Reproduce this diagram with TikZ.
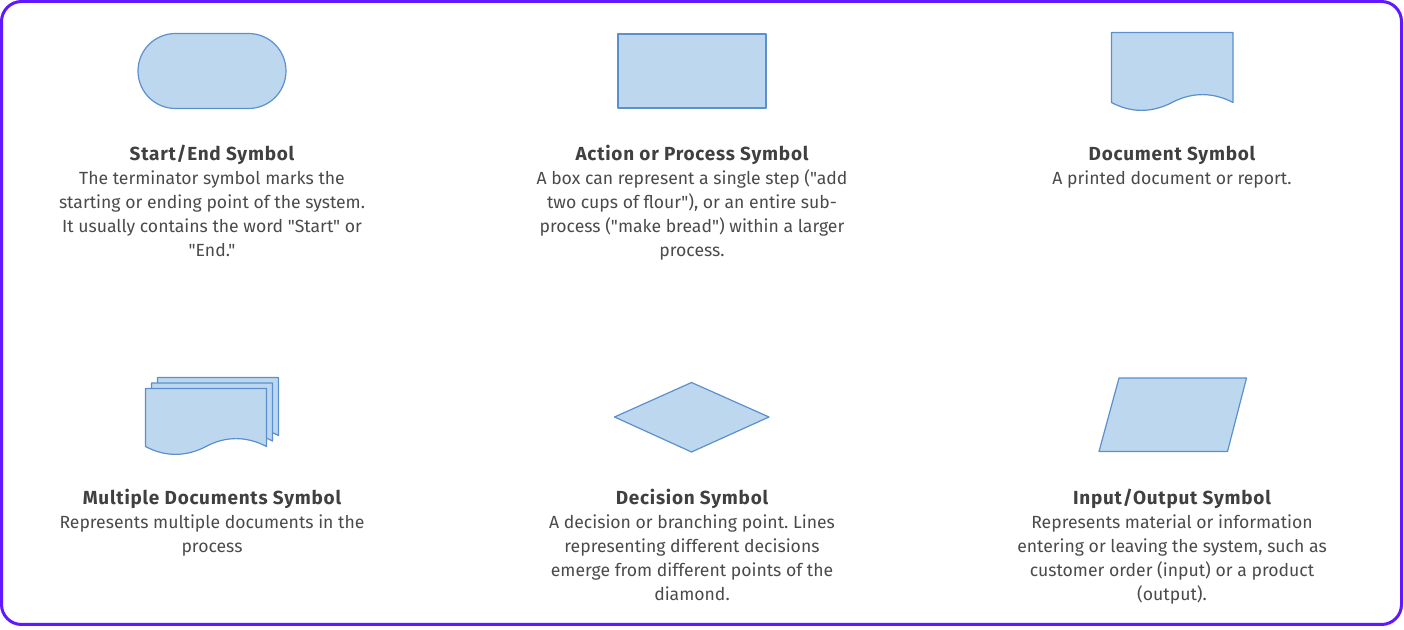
\documentclass[tikz,border=0pt]{standalone}
\usepackage{fontspec}
\setmainfont{Fira Sans}[Ligatures=TeXOff]
\frenchspacing
\definecolor{shapefill}{RGB}{189,215,238}
\definecolor{shapeline}{RGB}{91,144,207}
\definecolor{framec}{RGB}{98,24,255}
\definecolor{titlec}{RGB}{64,64,64}
\definecolor{bodyc}{RGB}{74,74,74}
\begin{document}
\begin{tikzpicture}[x=0.75pt,y=-0.75pt,
  sym/.style={fill=shapefill,draw=shapeline,line width=0.9pt,line join=round},
  ttl/.style={anchor=base,inner sep=0pt,text=titlec,font=\fontsize{14.2}{18}\selectfont\bfseries\addfontfeature{LetterSpace=4}},
  bdy/.style={anchor=base,inner sep=0pt,text=bodyc,align=center,font=\fontsize{13.2}{18}\selectfont\frenchspacing}]
\useasboundingbox (0,0) rectangle (1404,630);
\draw[framec,line width=2.25pt,rounded corners=15pt] (1.5,1.5) rectangle (1401.5,624.5);
% Start/End
\draw[sym,rounded corners=28.1pt] (138,33.5) rectangle (286,108.5);
% Process
\draw[sym] (618,34) rectangle (766,108);
% Document
\draw[sym] (1111.5,102.5) -- (1111.5,32.5) -- (1233,32.5) -- (1233,102.5)
  .. controls (1213,92) and (1192,92) .. (1172,102.5)
  .. controls (1152,113) and (1131,113) .. (1111.5,102.5) -- cycle;
% Multiple documents
\foreach \dx/\dy in {12/-11,6/-5.5,0/0}{
  \draw[sym,shift={(\dx,\dy)}] (145.5,446.5) -- (145.5,388.5) -- (266.5,388.5) -- (266.5,446.5)
    .. controls (246.5,436) and (225.5,436) .. (206,446.5)
    .. controls (186,457) and (165,457) .. (145.5,446.5) -- cycle;
}
% Decision
\draw[sym] (614.5,417) -- (691.5,382.5) -- (769,417) -- (691.5,452) -- cycle;
% Input/Output
\draw[sym] (1119,378) -- (1246.5,378) -- (1227.5,451.5) -- (1099,451.5) -- cycle;
% texts (anchor=base is the baseline of the last line)
\node[ttl] (t1) at (212,161) {Start/End Symbol};
\node[bdy] (b1) at (212,256.5) {The terminator symbol marks the\\starting or ending point of the system.\\It usually contains the word "Start" or\\"End."};
\node[ttl] (t2) at (692,161) {Action or Process Symbol};
\node[bdy] (b2) at (692,256.5) {A box can represent a single step ("add\\two cups of flour"), or an entire sub-\\process ("make bread") within a larger\\process.};
\node[ttl] (t3) at (1172,161) {Document Symbol};
\node[bdy] (b3) at (1172,184.5) {A printed document or report.};
\node[ttl] (t4) at (212,505) {Multiple Documents Symbol};
\node[bdy] (b4) at (212,552.5) {Represents multiple documents in the\\process};
\node[ttl] (t5) at (692,505) {Decision Symbol};
\node[bdy] (b5) at (692,600.5) {A decision or branching point. Lines\\representing different decisions\\emerge from different points of the\\diamond.};
\node[ttl] (t6) at (1172,505) {Input/Output Symbol};
\node[bdy] (b6) at (1172,600.5) {Represents material or information\\entering or leaving the system, such as\\customer order (input) or a product\\(output).};
\end{tikzpicture}
\end{document}
